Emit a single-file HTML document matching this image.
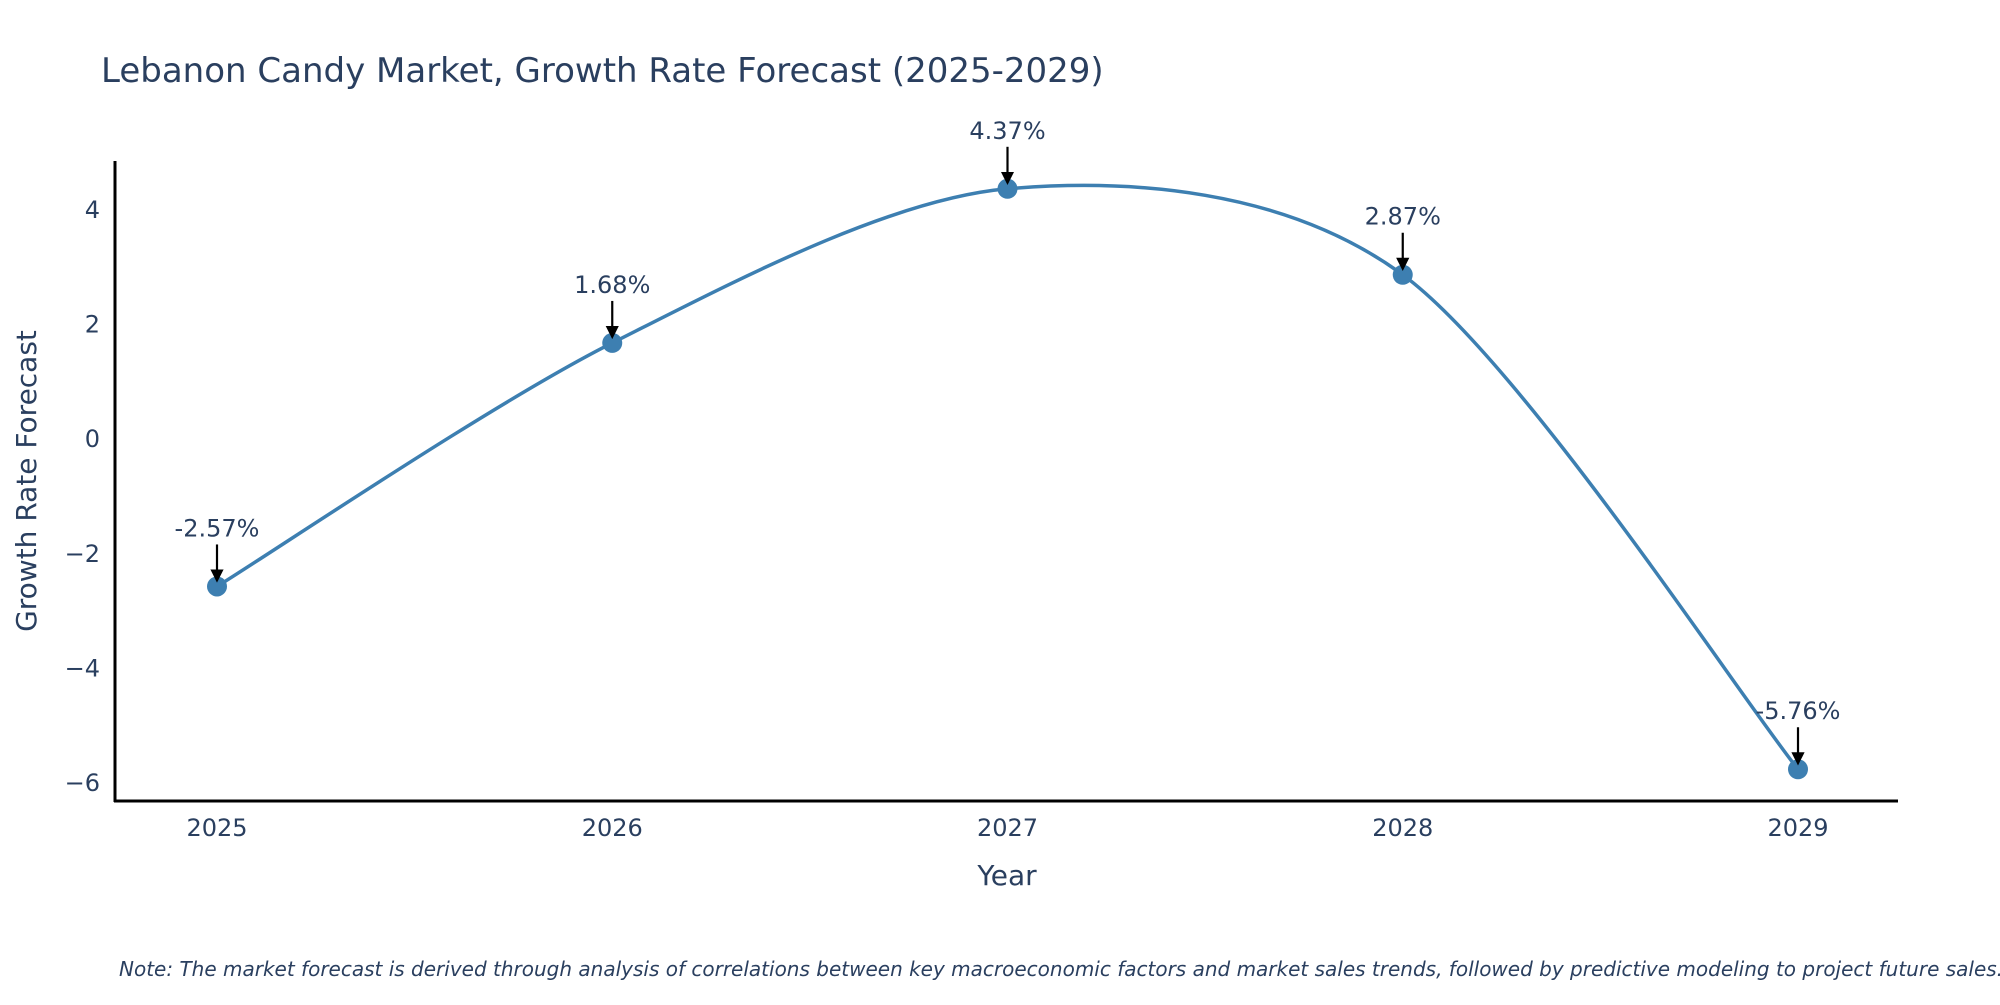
<!DOCTYPE html>
<html><head><meta charset="utf-8"><style>
body{margin:0;background:#fff;}
svg text{font-family:"DejaVu Sans","Liberation Sans",sans-serif;fill:#2a3f5f;}
</style></head><body>
<svg id="chart" width="2000" height="1000" xmlns="http://www.w3.org/2000/svg">
<text x="101" y="82" font-size="34">Lebanon Candy Market, Growth Rate Forecast (2025-2029)</text>
<g id="axes"></g>
<g id="plot"></g>
<text transform="translate(36,481) rotate(-90)" text-anchor="middle" font-size="28">Growth Rate Forecast</text>
<text x="1007" y="885" text-anchor="middle" font-size="28">Year</text>
<text x="119" y="976" font-size="20" font-style="italic">Note: The market forecast is derived through analysis of correlations between key macroeconomic factors and market sales trends, followed by predictive modeling to project future sales.</text>
</svg>
<script>
const years=[2025,2026,2027,2028,2029];
const values=[-2.57,1.68,4.37,2.87,-5.76];
const labels=["-2.57%","1.68%","4.37%","2.87%","-5.76%"];
const yTicks=[-6,-4,-2,0,2,4];
const NS="http://www.w3.org/2000/svg";
function X(v){return 217+(v-2025)*(1798-217)/4;}
function Y(v){return 210+(4-v)*57.3;}
function mk(tag,attrs,parent){const e=document.createElementNS(NS,tag);for(const k in attrs)e.setAttribute(k,attrs[k]);parent.appendChild(e);return e;}
const axes=document.getElementById('axes'),plot=document.getElementById('plot');
let yl=mk('line',{x1:115,y1:161,x2:115,y2:802,stroke:'#000','stroke-width':3},axes);


let xl=mk('line',{x1:114,y1:801,x2:1898,y2:801,stroke:'#000','stroke-width':3},axes);


yTicks.forEach(t=>{const e=mk('text',{x:100,y:Y(t)+8,'text-anchor':'end','font-size':24},axes);e.textContent=(t<0?'\u2212'+(-t):t);

});
years.forEach(yr=>{const e=mk('text',{x:X(yr),y:836,'text-anchor':'middle','font-size':24},axes);e.textContent=yr;

});
const P=years.map((y,i)=>[X(y),Y(values[i])]);
let d='M'+P[0][0]+','+P[0][1];const s=0.3;
for(let i=0;i<P.length-1;i++){const p0=P[i-1]||P[i],p1=P[i],p2=P[i+1],p3=P[i+2]||P[i+1];
const c1=[p1[0]+(p2[0]-p0[0])*s*0.5, p1[1]+(p2[1]-p0[1])*s*0.5];
const c2=[p2[0]-(p3[0]-p1[0])*s*0.5, p2[1]-(p3[1]-p1[1])*s*0.5];
d+=` C${c1[0]},${c1[1]} ${c2[0]},${c2[1]} ${p2[0]},${p2[1]}`;}
const ln=mk('path',{d:d,fill:'none',stroke:'#3d7fb1','stroke-width':3.5},plot);


mk('defs',{},plot).innerHTML='<marker id="ah" markerWidth="6" markerHeight="6" refX="5" refY="3" orient="auto" markerUnits="strokeWidth"><path d="M0,0 L6,3 L0,6 z" fill="#000"/></marker>';
P.forEach((p,i)=>{const c=mk('circle',{cx:p[0],cy:p[1],r:10,fill:'#3d7fb1'},plot);


const a=mk('line',{x1:p[0],y1:p[1]-42,x2:p[0],y2:p[1]-6,stroke:'#000','stroke-width':2.2,'marker-end':'url(#ah)'},plot);


const t=mk('text',{x:p[0],y:p[1]-50,'text-anchor':'middle','font-size':24},plot);t.textContent=labels[i];

});
</script>
</body></html>
